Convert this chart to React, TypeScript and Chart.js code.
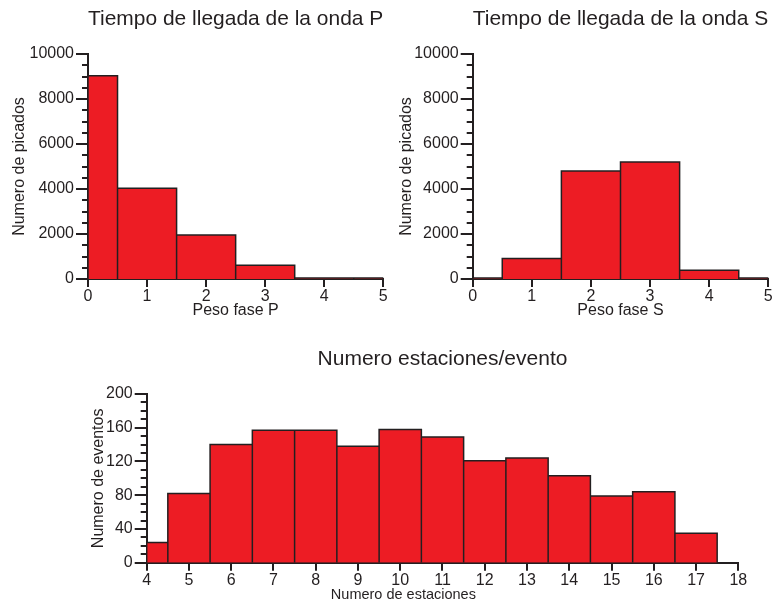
import React, { useEffect, useRef } from 'react';
import { Chart, registerables } from 'chart.js';

Chart.register(...registerables);

const FONT = "'Liberation Sans', Arial, Helvetica, sans-serif";
const INK = '#231F20';
const RED = '#ED1C24';

// ---- data ----
const pTitle = 'Tiempo de llegada de la onda P';
const pXLabel = 'Peso fase P';
const sTitle = 'Tiempo de llegada de la onda S';
const sXLabel = 'Peso fase S';
const picksYLabel = 'Numero de picados';
const nTitle = 'Numero estaciones/evento';
const nXLabel = 'Numero de estaciones';
const nYLabel = 'Numero de eventos';

const pEdges = [0, 0.5, 1.5, 2.5, 3.5, 4.5, 5];
const pCounts = [9030, 4030, 1960, 610, 40, 40];

const sEdges = [0, 0.5, 1.5, 2.5, 3.5, 4.5, 5];
const sCounts = [40, 910, 4800, 5200, 390, 40];

const nEdges = [4, 4.5, 5.5, 6.5, 7.5, 8.5, 9.5, 10.5, 11.5, 12.5, 13.5, 14.5, 15.5, 16.5, 17.5];
const nCounts = [24, 82, 140, 157, 157, 138, 158, 149, 121, 124, 103, 79, 84, 35];

const phaseXTicks = [0, 1, 2, 3, 4, 5];
const picksYTicks = [0, 2000, 4000, 6000, 8000, 10000];
const stationXTicks = [4, 5, 6, 7, 8, 9, 10, 11, 12, 13, 14, 15, 16, 17, 18];
const eventYTicks = [0, 40, 80, 120, 160, 200];

function outline(edges: number[], counts: number[]) {
  const pts: { x: number; y: number }[] = [];
  counts.forEach((c, i) => {
    pts.push({ x: edges[i], y: 0 }, { x: edges[i], y: c }, { x: edges[i + 1], y: c }, { x: edges[i + 1], y: 0 });
  });
  return pts;
}

const minorTicks = {
  id: 'minorTicks',
  afterDraw(chart: any, _args: any, opts: any) {
    const y = chart.scales.y;
    const { ctx, chartArea } = chart;
    const majors: number[] = opts.majors || [];
    ctx.save();
    ctx.strokeStyle = INK;
    ctx.lineWidth = 2;
    for (let v = y.min; v <= y.max + 1e-9; v += opts.step) {
      if (majors.some((m) => Math.abs(m - v) < 1e-9)) continue;
      const py = Math.round(y.getPixelForValue(v));
      ctx.beginPath();
      ctx.moveTo(chartArea.left - opts.len, py);
      ctx.lineTo(chartArea.left, py);
      ctx.stroke();
    }
    ctx.restore();
  },
};

const freeLabel = {
  id: 'freeLabel',
  afterDraw(chart: any, _args: any, opts: any) {
    if (!opts || !opts.text) return;
    const { ctx } = chart;
    ctx.save();
    ctx.fillStyle = INK;
    ctx.font = `${opts.size}px ${FONT}`;
    ctx.textAlign = 'center';
    ctx.textBaseline = 'middle';
    ctx.fillText(opts.text, opts.x, opts.y);
    ctx.restore();
  },
};

type Spec = {
  title: string;
  xLabel: string;
  yLabel: string;
  edges: number[];
  counts: number[];
  xTicks: number[];
  yTicks: number[];
  yMinorStep: number;
  left: number;
  top: number;
  width: number;
  height: number;
  yAxisWidth: number;
  xAxisHeight: number;
  padRight: number;
  titlePadTop: number;
  titlePadBottom: number;
  yTitlePad: number;
  xTitlePad: number;
  xTitleFree?: { x: number; y: number; size: number };
};

function Histogram({ spec }: { spec: Spec }) {
  const ref = useRef<HTMLCanvasElement | null>(null);
  useEffect(() => {
    if (!ref.current) return;
    const s = spec;
    const tickFont = { family: FONT, size: 16 };
    const chart = new Chart(ref.current, {
      type: 'line',
      data: {
        datasets: [
          {
            data: outline(s.edges, s.counts),
            fill: 'origin',
            backgroundColor: RED,
            borderColor: INK,
            borderWidth: 1.5,
            pointRadius: 0,
            tension: 0,
            borderJoinStyle: 'miter',
          } as any,
        ],
      },
      options: {
        responsive: false,
        animation: false,
        events: [],
        layout: { padding: { left: 0, right: s.padRight, top: 0, bottom: 0 } },
        plugins: {
          legend: { display: false },
          tooltip: { enabled: false },
          title: {
            display: true,
            text: s.title,
            fullSize: false,
            color: INK,
            font: { family: FONT, size: 21, weight: 'normal', lineHeight: 1.2 },
            padding: { top: s.titlePadTop, bottom: s.titlePadBottom },
          },
          minorTicks: { step: s.yMinorStep, len: 6, majors: s.yTicks },
          freeLabel: s.xTitleFree ? { text: s.xLabel, ...s.xTitleFree } : {},
        } as any,
        scales: {
          x: {
            type: 'linear',
            min: s.xTicks[0],
            max: s.xTicks[s.xTicks.length - 1],
            afterBuildTicks: (sc: any) => {
              sc.ticks = s.xTicks.map((v) => ({ value: v }));
            },
            afterFit: (sc: any) => {
              sc.height = s.xAxisHeight;
            },
            grid: { display: true, drawOnChartArea: false, drawTicks: true, tickLength: 8, color: INK, lineWidth: 2 },
            border: { display: true, color: INK, width: 2 },
            ticks: { font: tickFont, color: INK, padding: 0, maxRotation: 0, autoSkip: false, callback: (v: any) => String(v) },
            title: s.xTitleFree
              ? { display: false }
              : {
                  display: true,
                  text: s.xLabel,
                  color: INK,
                  font: { family: FONT, size: 16, lineHeight: 1.2 },
                  padding: { top: 0, bottom: s.xTitlePad },
                },
          },
          y: {
            type: 'linear',
            min: s.yTicks[0],
            max: s.yTicks[s.yTicks.length - 1],
            afterBuildTicks: (sc: any) => {
              sc.ticks = s.yTicks.map((v) => ({ value: v }));
            },
            afterFit: (sc: any) => {
              sc.width = s.yAxisWidth;
            },
            grid: { display: true, drawOnChartArea: false, drawTicks: true, tickLength: 12, color: INK, lineWidth: 2 },
            border: { display: true, color: INK, width: 2 },
            ticks: { font: tickFont, color: INK, padding: 2, autoSkip: false, callback: (v: any) => String(v) },
            title: {
              display: true,
              text: s.yLabel,
              color: INK,
              font: { family: FONT, size: 16, lineHeight: 1.2 },
              padding: { top: s.yTitlePad, bottom: 0 },
            },
          },
        },
      } as any,
      plugins: [minorTicks, freeLabel],
    });
    return () => chart.destroy();
  }, [spec]);

  return (
    <canvas
      ref={ref}
      width={spec.width}
      height={spec.height}
      style={{ position: 'absolute', left: spec.left, top: spec.top, width: spec.width, height: spec.height }}
    />
  );
}

const specs: Spec[] = [
  {
    title: pTitle,
    xLabel: pXLabel,
    yLabel: picksYLabel,
    edges: pEdges,
    counts: pCounts,
    xTicks: phaseXTicks,
    yTicks: picksYTicks,
    yMinorStep: 500,
    left: 0,
    top: 0,
    width: 400,
    height: 330,
    yAxisWidth: 88,
    xAxisHeight: 51,
    padRight: 16.7,
    titlePadTop: 6.5,
    titlePadBottom: 22.3,
    yTitlePad: 10.4,
    xTitlePad: 9.4,
  },
  {
    title: sTitle,
    xLabel: sXLabel,
    yLabel: picksYLabel,
    edges: sEdges,
    counts: sCounts,
    xTicks: phaseXTicks,
    yTicks: picksYTicks,
    yMinorStep: 500,
    left: 390,
    top: 0,
    width: 383,
    height: 330,
    yAxisWidth: 82.7,
    xAxisHeight: 51,
    padRight: 4.7,
    titlePadTop: 6.5,
    titlePadBottom: 22.3,
    yTitlePad: 6.7,
    xTitlePad: 9.4,
  },
  {
    title: nTitle,
    xLabel: nXLabel,
    yLabel: nYLabel,
    edges: nEdges,
    counts: nCounts,
    xTicks: stationXTicks,
    yTicks: eventYTicks,
    yMinorStep: 10,
    left: 0,
    top: 330,
    width: 773,
    height: 273,
    yAxisWidth: 146.7,
    xAxisHeight: 40.3,
    padRight: 34.7,
    titlePadTop: 16.5,
    titlePadBottom: 22.3,
    yTitlePad: 88.9,
    xTitlePad: 0,
    xTitleFree: { x: 403.4, y: 264.5, size: 14.5 },
  },
];

export default function App() {
  return (
    <div style={{ position: 'absolute', left: 0, top: 0, width: 773, height: 603, background: '#fff', overflow: 'hidden' }}>
      {specs.map((s, i) => (
        <Histogram key={i} spec={s} />
      ))}
    </div>
  );
}
